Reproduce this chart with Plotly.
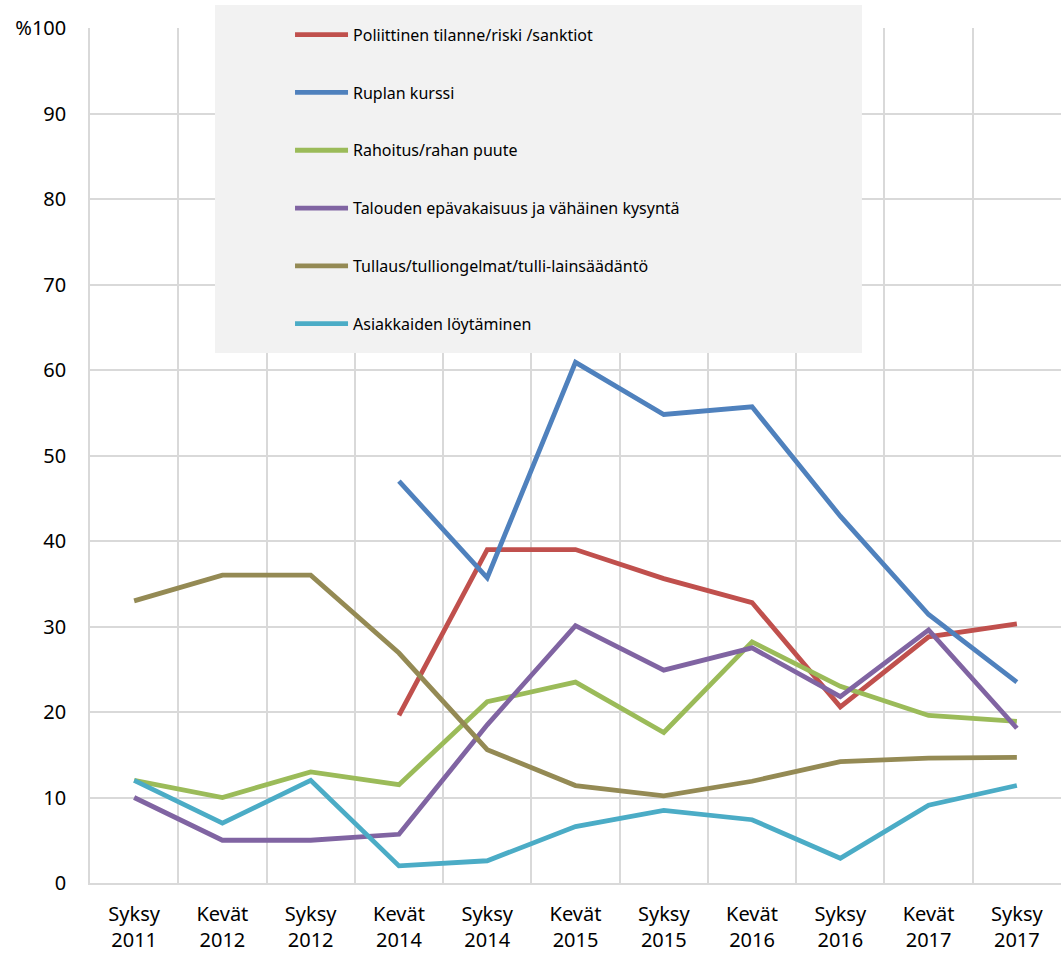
import plotly.graph_objects as go

categories = [
    "Syksy<br>2011", "Kevät<br>2012", "Syksy<br>2012", "Kevät<br>2014", "Syksy<br>2014",
    "Kevät<br>2015", "Syksy<br>2015", "Kevät<br>2016", "Syksy<br>2016", "Kevät<br>2017",
    "Syksy<br>2017",
]

poliittinen = [None, None, None, 19.6, 39.0, 39.0, 35.6, 32.8, 20.6, 28.8, 30.3]
ruplan = [None, None, None, 47.0, 35.7, 60.9, 54.8, 55.7, 42.9, 31.4, 23.5]
rahoitus = [12.0, 10.0, 13.0, 11.5, 21.2, 23.5, 17.6, 28.2, 23.0, 19.6, 18.9]
talouden = [10.0, 5.0, 5.0, 5.7, 18.5, 30.1, 24.9, 27.5, 21.8, 29.6, 18.1]
tullaus = [33.0, 36.0, 36.0, 26.9, 15.6, 11.4, 10.2, 11.9, 14.2, 14.6, 14.7]
asiakkaiden = [12.0, 7.0, 12.0, 2.0, 2.6, 6.6, 8.5, 7.4, 2.9, 9.1, 11.4]

y_tickvals = [0, 10, 20, 30, 40, 50, 60, 70, 80, 90, 100]
y_ticktext = ["0", "10", "20", "30", "40", "50", "60", "70", "80", "90", "%100"]

series = [
    ("Poliittinen tilanne/riski /sanktiot", poliittinen, "#C0504D"),
    ("Ruplan kurssi", ruplan, "#4F81BD"),
    ("Rahoitus/rahan puute", rahoitus, "#9BBB59"),
    ("Talouden epävakaisuus ja vähäinen kysyntä", talouden, "#8064A2"),
    ("Tullaus/tulliongelmat/tulli-lainsäädäntö", tullaus, "#948A54"),
    ("Asiakkaiden löytäminen", asiakkaiden, "#4BACC6"),
]

fig = go.Figure()
for name, values, color in series:
    fig.add_trace(go.Scatter(
        x=categories, y=values, name=name, mode="lines", legendgroup=name,
        line=dict(color=color, width=4.8), connectgaps=False,
    ))

font = dict(family="Noto Sans, Open Sans, sans-serif", size=20, color="#000000")
legend_font = dict(family="Noto Sans, Open Sans, sans-serif", size=16, color="#000000")

fig.update_layout(
    width=1062, height=953,
    margin=dict(l=90, r=1, t=28, b=70, autoexpand=False),
    paper_bgcolor="white", plot_bgcolor="white",
    font=font,
    showlegend=True,
    legend=dict(
        x=0.206, y=1.012, xanchor="left", yanchor="top",
        bgcolor="rgba(0,0,0,0)", tracegroupgap=34, itemwidth=53,
        font=legend_font,
    ),
    shapes=[dict(
        type="rect", xref="paper", yref="paper", layer="above",
        x0=0.1287, x1=0.795, y0=0.620, y1=1.027,
        fillcolor="#F2F2F2", line=dict(width=0),
    )],
)
fig.update_xaxes(
    type="category", tickson="boundaries", showgrid=True, gridcolor="#D9D9D9", gridwidth=1.5,
    showline=True, linecolor="#D9D9D9", linewidth=1.5, ticks="", ticklen=0,
    mirror=False, tickfont=font, range=[-0.5, 10.5], automargin=False,
    ticklabelstandoff=12,
)
fig.update_yaxes(
    range=[0, 100], tickvals=y_tickvals, ticktext=y_ticktext, showgrid=True,
    gridcolor="#D9D9D9", gridwidth=1.5, showline=True, linecolor="#D9D9D9", linewidth=1.5,
    zeroline=False, ticks="", tickfont=font, ticklabelstandoff=18, automargin=False,
)
fig.write_html(
    "out.html",
    config={"displayModeBar": False},
    post_script="document.body.style.margin = '0';",
)
